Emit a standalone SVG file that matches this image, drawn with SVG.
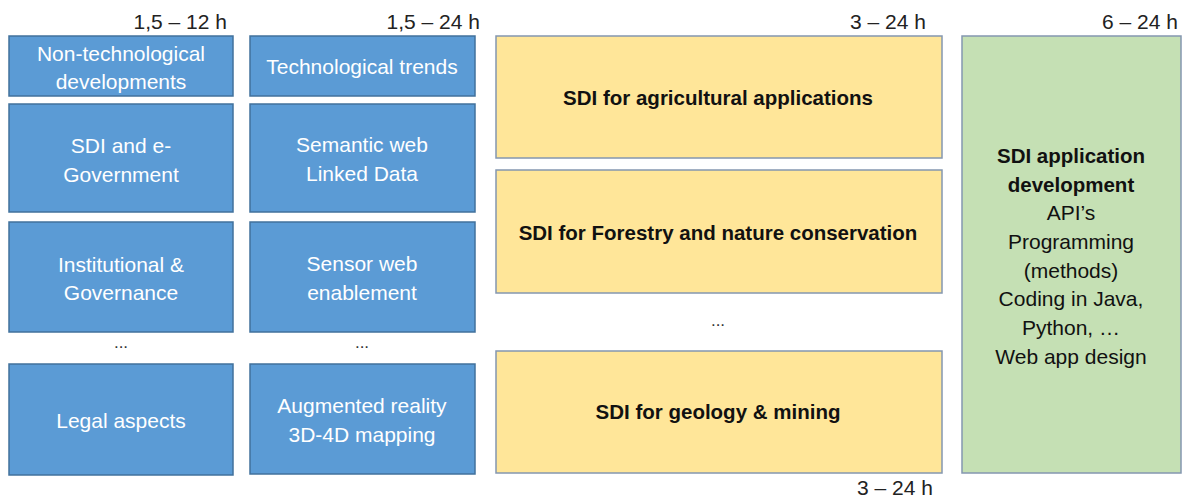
<svg xmlns="http://www.w3.org/2000/svg" width="1182" height="498" viewBox="0 0 1182 498">
<style>
.blue{fill:#5B9BD5;stroke:#41719C;stroke-width:1.5}
.yel{fill:#FFE699;stroke:#8497B0;stroke-width:1.5}
.grn{fill:#C5E0B4;stroke:#8497B0;stroke-width:1.5}
.wt{font-family:"Liberation Sans",Arial,sans-serif;font-size:21px;fill:#FFFFFF;text-anchor:middle}
.bt{font-family:"Liberation Sans",Arial,sans-serif;font-size:20.5px;font-weight:bold;fill:#111111;text-anchor:middle}
.gt{font-family:"Liberation Sans",Arial,sans-serif;font-size:21px;fill:#111111;text-anchor:middle}
.lbl{font-family:"Liberation Sans",Arial,sans-serif;font-size:21px;fill:#222222;text-anchor:end}
.dots{font-family:"Liberation Sans",Arial,sans-serif;font-size:17px;fill:#333333;text-anchor:middle}
</style>
<rect width="1182" height="498" fill="#FFFFFF"/>
<g id="labels">
<text class="lbl" x="227" y="29">1,5 – 12 h</text>
<text class="lbl" x="480" y="29">1,5 – 24 h</text>
<text class="lbl" x="926" y="29">3 – 24 h</text>
<text class="lbl" x="1178" y="29">6 – 24 h</text>
<text class="lbl" x="933" y="495">3 – 24 h</text>
<text class="dots" x="121" y="348">...</text>
<text class="dots" x="362" y="348">...</text>
<text class="dots" x="718" y="326">...</text>
</g>
<g id="n-nontech"><rect class="blue" x="9" y="36" width="224" height="60"/><text class="wt" x="121" y="61">Non-technological</text><text class="wt" x="121" y="89">developments</text></g>
<g id="n-sdi-egov"><rect class="blue" x="9" y="104" width="224" height="108"/><text class="wt" x="121" y="153">SDI and e-</text><text class="wt" x="121" y="182">Government</text></g>
<g id="n-institutional"><rect class="blue" x="9" y="222" width="224" height="110"/><text class="wt" x="121" y="272">Institutional &amp;</text><text class="wt" x="121" y="300">Governance</text></g>
<g id="n-legal"><rect class="blue" x="9" y="364" width="224" height="111"/><text class="wt" x="121" y="428">Legal aspects</text></g>
<g id="n-techtrends"><rect class="blue" x="250" y="36" width="225" height="60"/><text class="wt" x="362" y="74">Technological trends</text></g>
<g id="n-semantic"><rect class="blue" x="250" y="104" width="225" height="108"/><text class="wt" x="362" y="152">Semantic web</text><text class="wt" x="362" y="181">Linked Data</text></g>
<g id="n-sensor"><rect class="blue" x="250" y="222" width="225" height="110"/><text class="wt" x="362" y="271">Sensor web</text><text class="wt" x="362" y="300">enablement</text></g>
<g id="n-augmented"><rect class="blue" x="250" y="364" width="225" height="110"/><text class="wt" x="362" y="413">Augmented reality</text><text class="wt" x="362" y="442">3D-4D mapping</text></g>
<g id="n-agri"><rect class="yel" x="496" y="36" width="446" height="122"/><text class="bt" x="718" y="105">SDI for agricultural applications</text></g>
<g id="n-forestry"><rect class="yel" x="496" y="170" width="446" height="123"/><text class="bt" x="718" y="240">SDI for Forestry and nature conservation</text></g>
<g id="n-geology"><rect class="yel" x="496" y="351" width="446" height="122"/><text class="bt" x="718" y="419">SDI for geology &amp; mining</text></g>
<g id="n-appdev"><rect class="grn" x="962" y="36" width="219" height="437"/>
<text class="bt" x="1071" y="163" style="font-size:20.5px">SDI application</text>
<text class="bt" x="1071" y="192" style="font-size:20.5px">development</text>
<text class="gt" x="1071" y="220">API’s</text>
<text class="gt" x="1071" y="249">Programming</text>
<text class="gt" x="1071" y="278">(methods)</text>
<text class="gt" x="1071" y="306">Coding in Java,</text>
<text class="gt" x="1071" y="335">Python, …</text>
<text class="gt" x="1071" y="364">Web app design</text>
</g>
<g id="connectors"></g>
</svg>
